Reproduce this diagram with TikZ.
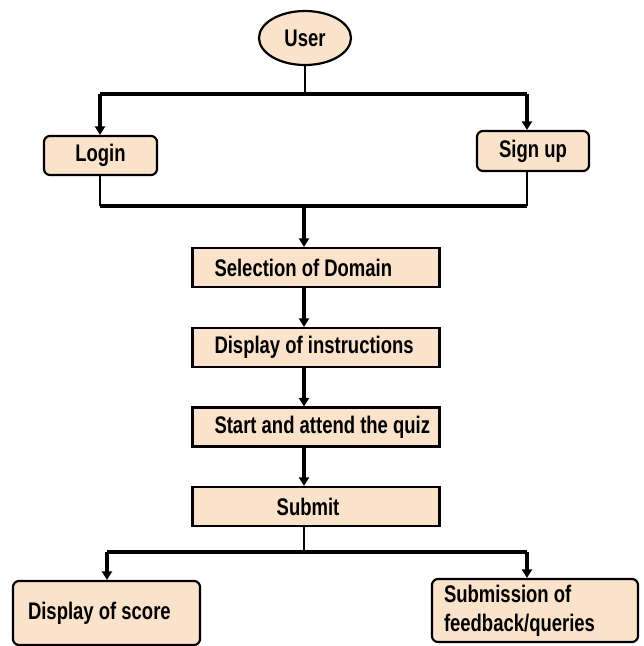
\documentclass[tikz,border=0pt]{standalone}
\usepackage{fontspec}
\setmainfont{Liberation Sans}
\usetikzlibrary{arrows.meta,shapes.geometric}
\definecolor{peach}{HTML}{FBE3CB}
\newcommand{\fsz}{\fontsize{24}{29}\selectfont\bfseries}
\newcommand{\cond}[1]{\scalebox{0.77}[1]{#1}}
\newcommand{\lbox}[2]{\makebox[#1][l]{\cond{#2}}}
\begin{document}
\begin{tikzpicture}[x=1pt,y=-1pt,
  box/.style={draw=black, line width=2.2pt, fill=peach, font=\fsz, inner sep=0pt, minimum height=39pt},
  midbox/.style={box, inner xsep=22pt},
  rbox/.style={box, rounded corners=6pt},
  thinline/.style={line width=1.8pt},
  thickline/.style={line width=3.4pt},
  arrline/.style={line width=3.8pt, -{Triangle[width=10pt,length=8.5pt]}}]
\useasboundingbox (0,0) rectangle (644,646);

% nodes
\node[box, ellipse, minimum width=92pt, minimum height=54pt] (user) at (305,38) {\cond{User}};
\node[rbox, minimum width=113pt] (login) at (100.5,155.5) {\raisebox{-2pt}{\cond{Login}}};
\node[rbox, minimum width=112pt, minimum height=40pt] (signup) at (533,151) {\cond{Sign up}};
\node[midbox] (sel) at (316,267.5) {\lbox{203pt}{Selection of Domain}};
\node[midbox] (disp) at (316,347.5) {\lbox{203pt}{Display of instructions}};
\node[midbox] (start) at (316,427) {\lbox{203pt}{Start and attend the quiz}};
\node[box, minimum width=247pt] (submit) at (316,506.5) {\hspace*{-16pt}\cond{Submit}};
\node[rbox, inner xsep=15pt, minimum height=64pt] (score) at (106.5,613) {\raisebox{-4pt}{\lbox{157pt}{Display of score}}};
\node[rbox, inner xsep=12pt, minimum height=63pt, align=left] (feed) at (535,610.5) {\lbox{182pt}{Submission of}\\\lbox{182pt}{feedback/queries}};

% junction coordinates
\coordinate (jtop) at (305,94);
\coordinate (jl) at (100,94);
\coordinate (jr) at (527,94);
\coordinate (jmid) at (304,206);
\coordinate (jml) at (100,206);
\coordinate (jmr) at (527,206);
\coordinate (jbot) at (304,552);
\coordinate (jbl) at (107,552);
\coordinate (jbr) at (527,552);

% top split
\draw[thinline] (user.south) -- (jtop);
\draw[thickline] (jl) -- (jr);
\draw[arrline] (jl) -- (jl |- login.north);
\draw[arrline] (jr) -- (jr |- signup.north);

% merge
\draw[thinline] (jml |- login.south) -- (jml);
\draw[thinline] (jmr |- signup.south) -- (jmr);
\draw[thickline] (jml) -- (jmr);
\draw[arrline] (jmid) -- (jmid |- sel.north);

% chain
\draw[arrline] (jmid |- sel.south) -- (jmid |- disp.north);
\draw[arrline] (jmid |- disp.south) -- (jmid |- start.north);
\draw[arrline] (jmid |- start.south) -- (jmid |- submit.north);

% bottom split
\draw[thinline] (jbot |- submit.south) -- (jbot);
\draw[thickline] (jbl) -- (jbr);
\draw[arrline] (jbl) -- (jbl |- score.north);
\draw[arrline] (jbr) -- (jbr |- feed.north);
\end{tikzpicture}
\end{document}
